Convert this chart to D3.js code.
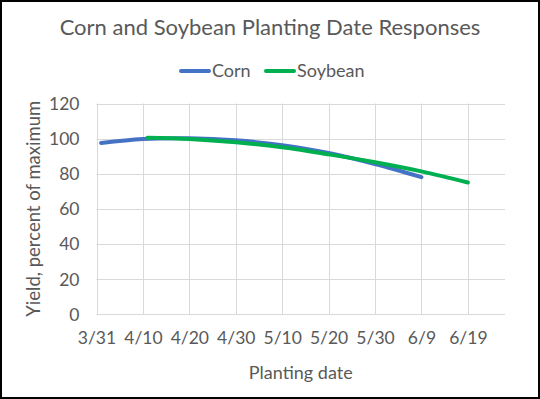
<!DOCTYPE html>
<html>
<head>
<meta charset="utf-8">
<script src="https://cdn.jsdelivr.net/npm/d3@7"></script>
<style>
  body { margin: 0; background: #fff; }
  svg text { font-family: Lato, "Open Sans", sans-serif; fill: #595959; }
</style>
</head>
<body>
<div id="chart"></div>
<script>
// planting dates (month/day) and yields, percent of maximum
var cornDates = ["4/1", "4/10", "4/20", "4/30", "5/10", "5/20", "5/30", "6/9"];
var cornYield = [97.5, 99.8, 100.2, 99.0, 96.2, 91.8, 85.5, 78.0];

var soyDates = ["4/11", "4/20", "4/30", "5/10", "5/20", "5/30", "6/9", "6/19"];
var soyYield = [100.5, 99.8, 97.9, 95.0, 91.0, 86.5, 81.3, 75.0];

var xTickLabels = ["3/31", "4/10", "4/20", "4/30", "5/10", "5/20", "5/30", "6/9", "6/19"];
var yTicks = [0, 20, 40, 60, 80, 100, 120];
var xEnd = "6/27";

(function () {
  var W = 540, H = 399;
  var margin = { top: 103.5, right: 35, bottom: 85, left: 96.5 };

  var parse = function (s) {
    var p = s.split("/");
    return new Date(2021, +p[0] - 1, +p[1]);
  };

  var svg = d3.select("#chart")
    .append("svg")
    .attr("width", W)
    .attr("height", H);

  svg.append("rect")
    .attr("x", 1).attr("y", 1)
    .attr("width", W - 2).attr("height", H - 2)
    .attr("fill", "#fff")
    .attr("stroke", "#000")
    .attr("stroke-width", 2);

  var x = d3.scaleTime()
    .domain([parse(xTickLabels[0]), parse(xEnd)])
    .range([margin.left, W - margin.right]);

  var y = d3.scaleLinear()
    .domain([0, 120])
    .range([H - margin.bottom, margin.top]);

  // gridlines
  var grid = svg.append("g");
  grid.selectAll("line.h")
    .data(yTicks)
    .enter().append("line")
    .attr("x1", x.range()[0]).attr("x2", x.range()[1])
    .attr("y1", function (d) { return Math.round(y(d)) + 0.5; })
    .attr("y2", function (d) { return Math.round(y(d)) + 0.5; })
    .attr("stroke", "#d9d9d9");

  grid.selectAll("line.v")
    .data(xTickLabels)
    .enter().append("line")
    .attr("x1", function (d) { return Math.round(x(parse(d))) + 0.5; })
    .attr("x2", function (d) { return Math.round(x(parse(d))) + 0.5; })
    .attr("y1", y(120)).attr("y2", y(0))
    .attr("stroke", "#d9d9d9");

  // axes
  var yAxis = d3.axisLeft(y).tickValues(yTicks).tickSize(0).tickPadding(17);
  var gy = svg.append("g")
    .attr("transform", "translate(" + margin.left + ",0)")
    .call(yAxis);
  gy.select(".domain").remove();
  gy.selectAll("text").attr("font-size", 17.5).attr("dy", "0.35em");

  var xAxis = d3.axisBottom(x)
    .tickValues(xTickLabels.map(parse))
    .tickFormat(d3.timeFormat("%-m/%-d"))
    .tickSize(0).tickPadding(18);
  var gx = svg.append("g")
    .attr("transform", "translate(0," + y(0) + ")")
    .call(xAxis);
  gx.select(".domain").remove();
  gx.selectAll("text").attr("font-size", 17.5);

  // series lines
  var line = d3.line()
    .x(function (d) { return x(d.date); })
    .y(function (d) { return y(d.value); })
    .curve(d3.curveCatmullRom.alpha(0.5));

  var corn = cornDates.map(function (d, i) { return { date: parse(d), value: cornYield[i] }; });
  var soy = soyDates.map(function (d, i) { return { date: parse(d), value: soyYield[i] }; });

  svg.append("path")
    .datum(corn)
    .attr("d", line)
    .attr("fill", "none")
    .attr("stroke", "#4472c4")
    .attr("stroke-width", 4)
    .attr("stroke-linecap", "round");

  svg.append("path")
    .datum(soy)
    .attr("d", line)
    .attr("fill", "none")
    .attr("stroke", "#00b050")
    .attr("stroke-width", 4)
    .attr("stroke-linecap", "round");

  // title
  svg.append("text")
    .attr("x", 270).attr("y", 35)
    .attr("text-anchor", "middle")
    .attr("font-size", 22)
    .text("Corn and Soybean Planting Date Responses");

  // legend
  var legend = [
    { name: "Corn", color: "#4472c4", x: 181 },
    { name: "Soybean", color: "#00b050", x: 266 }
  ];
  var lg = svg.selectAll("g.legend")
    .data(legend)
    .enter().append("g")
    .attr("transform", function (d) { return "translate(" + d.x + ",71)"; });
  lg.append("line")
    .attr("x1", 0).attr("x2", 28)
    .attr("stroke", function (d) { return d.color; })
    .attr("stroke-width", 4)
    .attr("stroke-linecap", "round");
  lg.append("text")
    .attr("x", 31).attr("dy", "0.35em")
    .attr("font-size", 18)
    .text(function (d) { return d.name; });

  // axis titles
  svg.append("text")
    .attr("x", (x.range()[0] + x.range()[1]) / 2)
    .attr("y", 379)
    .attr("text-anchor", "middle")
    .attr("font-size", 18)
    .text("Planting date");

  svg.append("text")
    .attr("transform", "translate(40," + (y(60)) + ") rotate(-90)")
    .attr("text-anchor", "middle")
    .attr("font-size", 18.5)
    .text("Yield, percent of maximum");
})();
</script>
</body>
</html>
